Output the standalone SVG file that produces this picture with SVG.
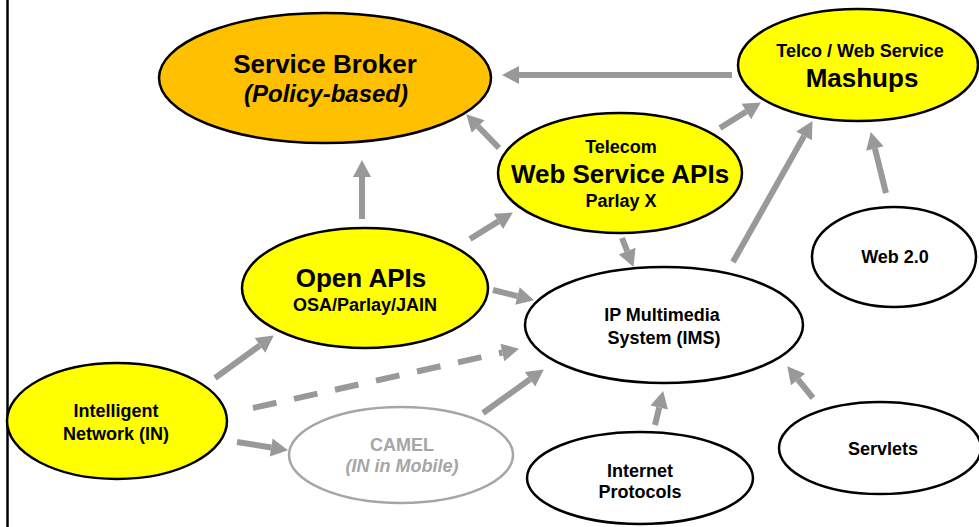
<svg xmlns="http://www.w3.org/2000/svg" width="979" height="527" viewBox="0 0 979 527">
<style>
text{font-family:"Liberation Sans",Arial,sans-serif;font-weight:bold;text-anchor:middle;fill:#000}
.node{stroke:#000;stroke-width:2.5}
.yel{fill:#FFFF00}
.org{fill:#FFC000}
.wht{fill:#FFFFFF}
.gry{fill:#FFFFFF;stroke:#A6A6A6}
.arr{stroke:#999999;stroke-width:6;fill:none;marker-end:url(#ah)}
.dash{stroke-dasharray:24 18}
.t26{font-size:26px}
.t18{font-size:18px}
.it{font-style:italic}
.g{fill:#A6A6A6}
</style>
<defs>
<marker id="ah" markerUnits="userSpaceOnUse" viewBox="0 -9 17 18" refX="0" refY="0" markerWidth="17" markerHeight="18" orient="auto" overflow="visible">
<path d="M0,-9 L17,0 L0,9 z" fill="#999999"/>
</marker>
</defs>
<rect width="979" height="527" fill="#FFFFFF"/>
<line x1="7.5" y1="0" x2="7.5" y2="527" stroke="#000" stroke-width="2.5"/>
<g id="connectors">
<line class="arr" x1="732" y1="75" x2="519" y2="75"/>
<line class="arr" x1="362" y1="219" x2="362" y2="177"/>
<line class="arr" x1="499" y1="148" x2="478.1" y2="126.5"/>
<line class="arr" x1="470" y1="239" x2="498.4" y2="221.4"/>
<line class="arr" x1="720" y1="128" x2="746.4" y2="111.5"/>
<line class="arr" x1="733" y1="262" x2="804.1" y2="135.9"/>
<line class="arr" x1="886" y1="193" x2="874.9" y2="148.5"/>
<line class="arr dash" x1="622" y1="238" x2="627.2" y2="251.1"/>
<line class="arr" x1="493" y1="290" x2="517.5" y2="296.1"/>
<line class="arr" x1="215" y1="378" x2="260" y2="345.4"/>
<line class="arr dash" x1="253" y1="408" x2="502.4" y2="352.5"/>
<line class="arr" x1="237" y1="442" x2="271.2" y2="447.5"/>
<line class="arr" x1="483" y1="413" x2="530" y2="379.3"/>
<line class="arr" x1="655" y1="425" x2="659.2" y2="407.5"/>
<line class="arr" x1="813" y1="398" x2="798" y2="379.5"/>
</g>
<g id="service-broker">
<ellipse class="node org" cx="325" cy="78" rx="166" ry="65"/>
<text class="t26" x="325" y="73">Service Broker</text>
<text class="it" x="326" y="102" font-size="24">(Policy-based)</text>
</g>
<g id="mashups">
<ellipse class="node yel" cx="858" cy="65" rx="120" ry="56"/>
<text class="t18" x="860" y="57">Telco / Web Service</text>
<text class="t26" x="862" y="87">Mashups</text>
</g>
<g id="telecom-ws-apis">
<ellipse class="node yel" cx="620" cy="173" rx="122" ry="60"/>
<text class="t18" x="621" y="153">Telecom</text>
<text class="t26" x="620" y="183">Web Service APIs</text>
<text class="t18" x="621" y="207">Parlay X</text>
</g>
<g id="open-apis">
<ellipse class="node yel" cx="365" cy="288" rx="123" ry="60"/>
<text class="t26" x="361" y="287">Open APIs</text>
<text class="t18" x="365" y="311">OSA/Parlay/JAIN</text>
</g>
<g id="intelligent-network">
<ellipse class="node yel" cx="117" cy="421" rx="110" ry="58"/>
<text class="t18" x="116" y="417">Intelligent</text>
<text class="t18" x="116" y="440">Network (IN)</text>
</g>
<g id="camel">
<ellipse class="node gry" cx="401" cy="455" rx="112" ry="48"/>
<text class="t18 g" x="402" y="451">CAMEL</text>
<text class="t18 g it" x="402" y="472">(IN in Mobile)</text>
</g>
<g id="ims">
<ellipse class="node wht" cx="664" cy="325" rx="139" ry="58"/>
<text class="t18" x="662" y="321">IP Multimedia</text>
<text class="t18" x="664" y="344">System (IMS)</text>
</g>
<g id="web20">
<ellipse class="node wht" cx="894" cy="257" rx="82" ry="50"/>
<text class="t18" x="895" y="263">Web 2.0</text>
</g>
<g id="internet-protocols">
<ellipse class="node wht" cx="640" cy="478" rx="113" ry="46"/>
<text class="t18" x="640" y="477">Internet</text>
<text class="t18" x="640" y="498">Protocols</text>
</g>
<g id="servlets">
<ellipse class="node wht" cx="880" cy="448" rx="101" ry="46"/>
<text class="t18" x="883" y="455">Servlets</text>
</g>
</svg>
